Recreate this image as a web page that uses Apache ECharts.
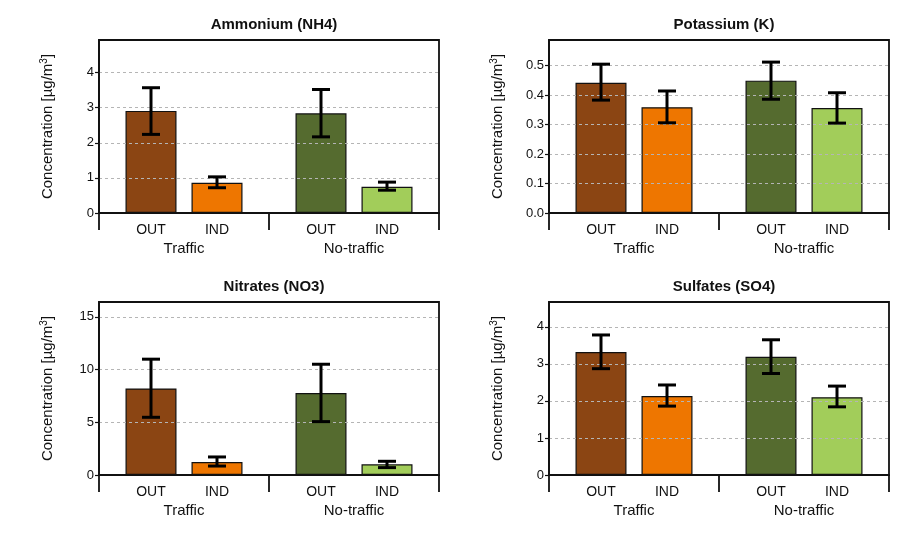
<!DOCTYPE html>
<html>
<head>
<meta charset="utf-8">
<script src="https://cdn.jsdelivr.net/npm/echarts@6/dist/echarts.min.js"></script>
<style>html,body{margin:0;padding:0;background:#fff}#c{width:900px;height:542px}</style>
</head>
<body>
<div id="c"></div>
<script>
// ---- data ----
const categories = ['Traffic', 'No-traffic'];
const siteLabels = ['OUT', 'IND'];
const titles = ['Ammonium (NH4)', 'Potassium (K)', 'Nitrates (NO3)', 'Sulfates (SO4)'];

const nh4Out = [2.91, 2.84];
const nh4OutLow = [2.24, 2.17];
const nh4OutHigh = [3.57, 3.52];
const nh4Ind = [0.86, 0.75];
const nh4IndLow = [0.72, 0.65];
const nh4IndHigh = [1.03, 0.88];

const kOut = [0.442, 0.449];
const kOutLow = [0.383, 0.386];
const kOutHigh = [0.505, 0.512];
const kInd = [0.359, 0.356];
const kIndLow = [0.306, 0.305];
const kIndHigh = [0.414, 0.408];

const no3Out = [8.2, 7.78];
const no3OutLow = [5.47, 5.06];
const no3OutHigh = [10.98, 10.5];
const no3Ind = [1.23, 1.01];
const no3IndLow = [0.85, 0.70];
const no3IndHigh = [1.71, 1.30];

const so4Out = [3.32, 3.19];
const so4OutLow = [2.87, 2.74];
const so4OutHigh = [3.78, 3.65];
const so4Ind = [2.13, 2.10];
const so4IndLow = [1.86, 1.84];
const so4IndHigh = [2.43, 2.40];

const yMax = [4.93, 0.587, 16.4, 4.67];
const yInterval = [1, 0.1, 5, 1];
const yDecimals = [0, 1, 0, 0];

const panels = [
  {out: nh4Out, outLow: nh4OutLow, outHigh: nh4OutHigh, ind: nh4Ind, indLow: nh4IndLow, indHigh: nh4IndHigh},
  {out: kOut, outLow: kOutLow, outHigh: kOutHigh, ind: kInd, indLow: kIndLow, indHigh: kIndHigh},
  {out: no3Out, outLow: no3OutLow, outHigh: no3OutHigh, ind: no3Ind, indLow: no3IndLow, indHigh: no3IndHigh},
  {out: so4Out, outLow: so4OutLow, outHigh: so4OutHigh, ind: so4Ind, indLow: so4IndLow, indHigh: so4IndHigh}
];

// ---- style ----
const outColors = ['#8B4513', '#556B2F'];
const indColors = ['#EE7600', '#A2CD5A'];
const FONT = '"Liberation Sans", Arial, sans-serif';
const BAR_W = 51;
const BAR_GAP_PX = 15;
const gridPos = [
  {left: 99, top: 40},
  {left: 549, top: 40},
  {left: 99, top: 302},
  {left: 549, top: 302}
];
const GW = 340, GH = 173;

const chart = echarts.init(document.getElementById('c'), null, {renderer: 'canvas'});

const option = {
  animation: false,
  backgroundColor: '#fff',
  textStyle: {fontFamily: FONT},
  title: [], grid: [], xAxis: [], yAxis: [], series: []
};

panels.forEach((p, i) => {
  const g = gridPos[i];
  option.title.push({
    text: titles[i],
    left: g.left + GW / 2,
    top: g.top - 28,
    textAlign: 'center',
    textStyle: {fontFamily: FONT, fontSize: 15, fontWeight: 'bold', color: '#111'}
  });
  option.grid.push({
    left: g.left, top: g.top, width: GW, height: GH,
    show: true, borderColor: '#111', borderWidth: 1.8, backgroundColor: 'transparent'
  });
  option.xAxis.push({
    type: 'category', gridIndex: i, data: categories, z: 4,
    axisLine: {lineStyle: {color: '#111', width: 1.8}},
    axisTick: {show: true, length: 17, interval: 0, lineStyle: {color: '#111', width: 1.8}},
    axisLabel: {margin: 28, fontSize: 15, color: '#111', fontFamily: FONT, interval: 0}
  });
  const dec = yDecimals[i];
  option.yAxis.push({
    type: 'value', gridIndex: i, min: 0, max: yMax[i], interval: yInterval[i], z: 3,
    name: 'Concentration [µg/m{sup|3}]',
    nameLocation: 'middle', nameGap: 42, nameRotate: 90,
    nameTextStyle: {fontSize: 15, color: '#111', fontFamily: FONT,
      rich: {sup: {fontSize: 10, verticalAlign: 'top', color: '#111', fontFamily: FONT, padding: [0, 0, 8, 0]}}},
    axisLine: {show: true, lineStyle: {color: '#111', width: 1.8}},
    axisTick: {show: true, length: 4, lineStyle: {color: '#111', width: 1.2}},
    axisLabel: {showMaxLabel: false, margin: 5, fontSize: 13, color: '#111', fontFamily: FONT,
      formatter: v => v.toFixed(dec)},
    splitLine: {show: true, showMinLine: false, showMaxLine: false,
      lineStyle: {color: '#b5b5b5', type: [3, 3], width: 1}}
  });
  const mk = (vals, colors, name) => ({
    type: 'bar', name: name, xAxisIndex: i, yAxisIndex: i,
    barWidth: BAR_W, barGap: (BAR_GAP_PX / BAR_W * 100) + '%', z: 2,
    data: vals.map((v, k) => ({value: v, itemStyle: {color: colors[k]}})),
    itemStyle: {borderColor: '#111', borderWidth: 1.2},
    label: {show: true, formatter: name, position: ['50%', '100%'], offset: [0, 17],
      align: 'center', verticalAlign: 'middle', fontSize: 14, color: '#111', fontFamily: FONT}
  });
  option.series.push(mk(p.out, outColors, siteLabels[0]));
  option.series.push(mk(p.ind, indColors, siteLabels[1]));
  const half = (2 * BAR_W + BAR_GAP_PX) / 2 - BAR_W / 2;
  const errData = [];
  for (let k = 0; k < categories.length; k++) {
    errData.push([k, p.outLow[k], p.outHigh[k], -1]);
    errData.push([k, p.indLow[k], p.indHigh[k], 1]);
  }
  option.series.push({
    type: 'custom', xAxisIndex: i, yAxisIndex: i, z: 5,
    encode: {x: 0, y: [1, 2]},
    data: errData,
    renderItem: (params, api) => {
      const c = api.value(0);
      const lo = api.coord([c, api.value(1)]);
      const hi = api.coord([c, api.value(2)]);
      const x = lo[0] + api.value(3) * half;
      const cap = 9;
      const st = {stroke: '#000', lineWidth: 3};
      return {type: 'group', children: [
        {type: 'line', shape: {x1: x, y1: lo[1], x2: x, y2: hi[1]}, style: st},
        {type: 'line', shape: {x1: x - cap, y1: lo[1], x2: x + cap, y2: lo[1]}, style: st},
        {type: 'line', shape: {x1: x - cap, y1: hi[1], x2: x + cap, y2: hi[1]}, style: st}
      ]};
    }
  });
});

chart.setOption(option);
</script>
</body>
</html>
